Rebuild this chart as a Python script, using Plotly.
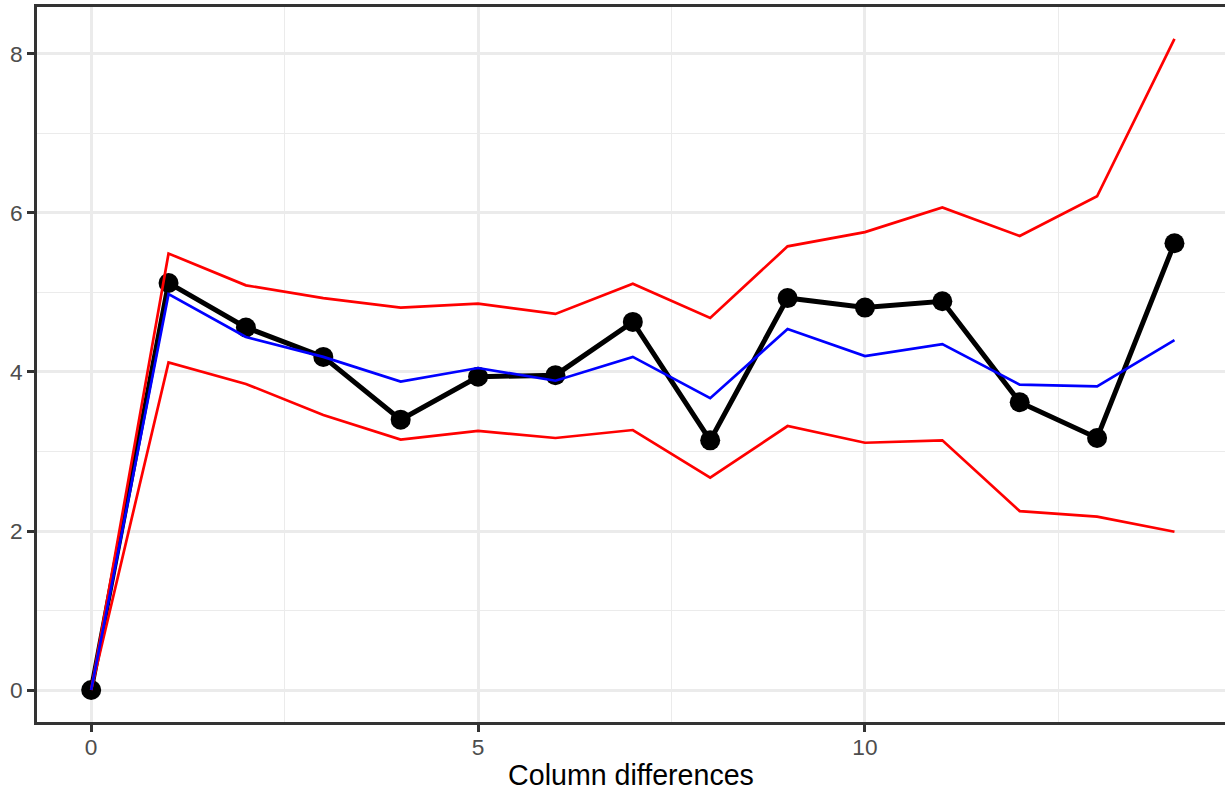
import plotly.graph_objects as go

x = list(range(15))
observed = [0, 5.12, 4.56, 4.19, 3.40, 3.94, 3.96, 4.63, 3.14, 4.93, 4.81, 4.89, 3.62, 3.17, 5.62]
expected = [0, 4.98, 4.44, 4.19, 3.88, 4.05, 3.89, 4.19, 3.67, 4.54, 4.20, 4.35, 3.84, 3.82, 4.40]
upper = [0, 5.49, 5.09, 4.93, 4.81, 4.86, 4.73, 5.11, 4.68, 5.58, 5.76, 6.07, 5.71, 6.21, 8.19]
lower = [0, 4.12, 3.85, 3.46, 3.15, 3.26, 3.17, 3.27, 2.67, 3.32, 3.11, 3.14, 2.25, 2.18, 1.99]
x_ticks = [0, 5, 10]
y_ticks = [0, 2, 4, 6, 8]

fig = go.Figure()
fig.add_trace(go.Scatter(x=x, y=observed, mode="lines+markers",
                         line=dict(color="black", width=5),
                         marker=dict(color="black", size=20), showlegend=False))
fig.add_trace(go.Scatter(x=x, y=lower, mode="lines", line=dict(color="#FF0000", width=2.7), showlegend=False))
fig.add_trace(go.Scatter(x=x, y=upper, mode="lines", line=dict(color="#FF0000", width=2.7), showlegend=False))
fig.add_trace(go.Scatter(x=x, y=expected, mode="lines", line=dict(color="#0000FF", width=2.7), showlegend=False))

font = "Liberation Sans, Arial, sans-serif"
axis_common = dict(
    showline=True, linecolor="#333333", linewidth=2.7,
    ticks="outside", ticklen=7, tickcolor="#333333", tickwidth=2.7,
    tickfont=dict(family=font, size=22.7, color="#4D4D4D"),
    showgrid=True, gridcolor="#EBEBEB", gridwidth=2.7,
    zeroline=False, automargin=False,
)
fig.update_layout(
    width=1225, height=794,
    margin=dict(l=37, r=0, t=7, b=72),
    paper_bgcolor="white", plot_bgcolor="white",
    xaxis=dict(range=[-0.7, 14.653], tickmode="array", tickvals=x_ticks, mirror=True,
               ticklabelstandoff=-4,
               minor=dict(tickvals=[2.5, 7.5, 12.5], showgrid=True, gridcolor="#EBEBEB", gridwidth=1.4, ticks=""),
               title=dict(text="Column differences", font=dict(family=font, size=28.6, color="black"), standoff=6),
               **axis_common),
    yaxis=dict(range=[-0.4025, 8.591], tickmode="array", tickvals=y_ticks, mirror=False,
               minor=dict(tickvals=[1, 3, 5, 7], showgrid=True, gridcolor="#EBEBEB", gridwidth=1.4, ticks=""),
               **axis_common),
)
fig.write_html("out.html", config={"displayModeBar": False},
               post_script="document.body.style.margin='0';document.body.style.padding='0';")
